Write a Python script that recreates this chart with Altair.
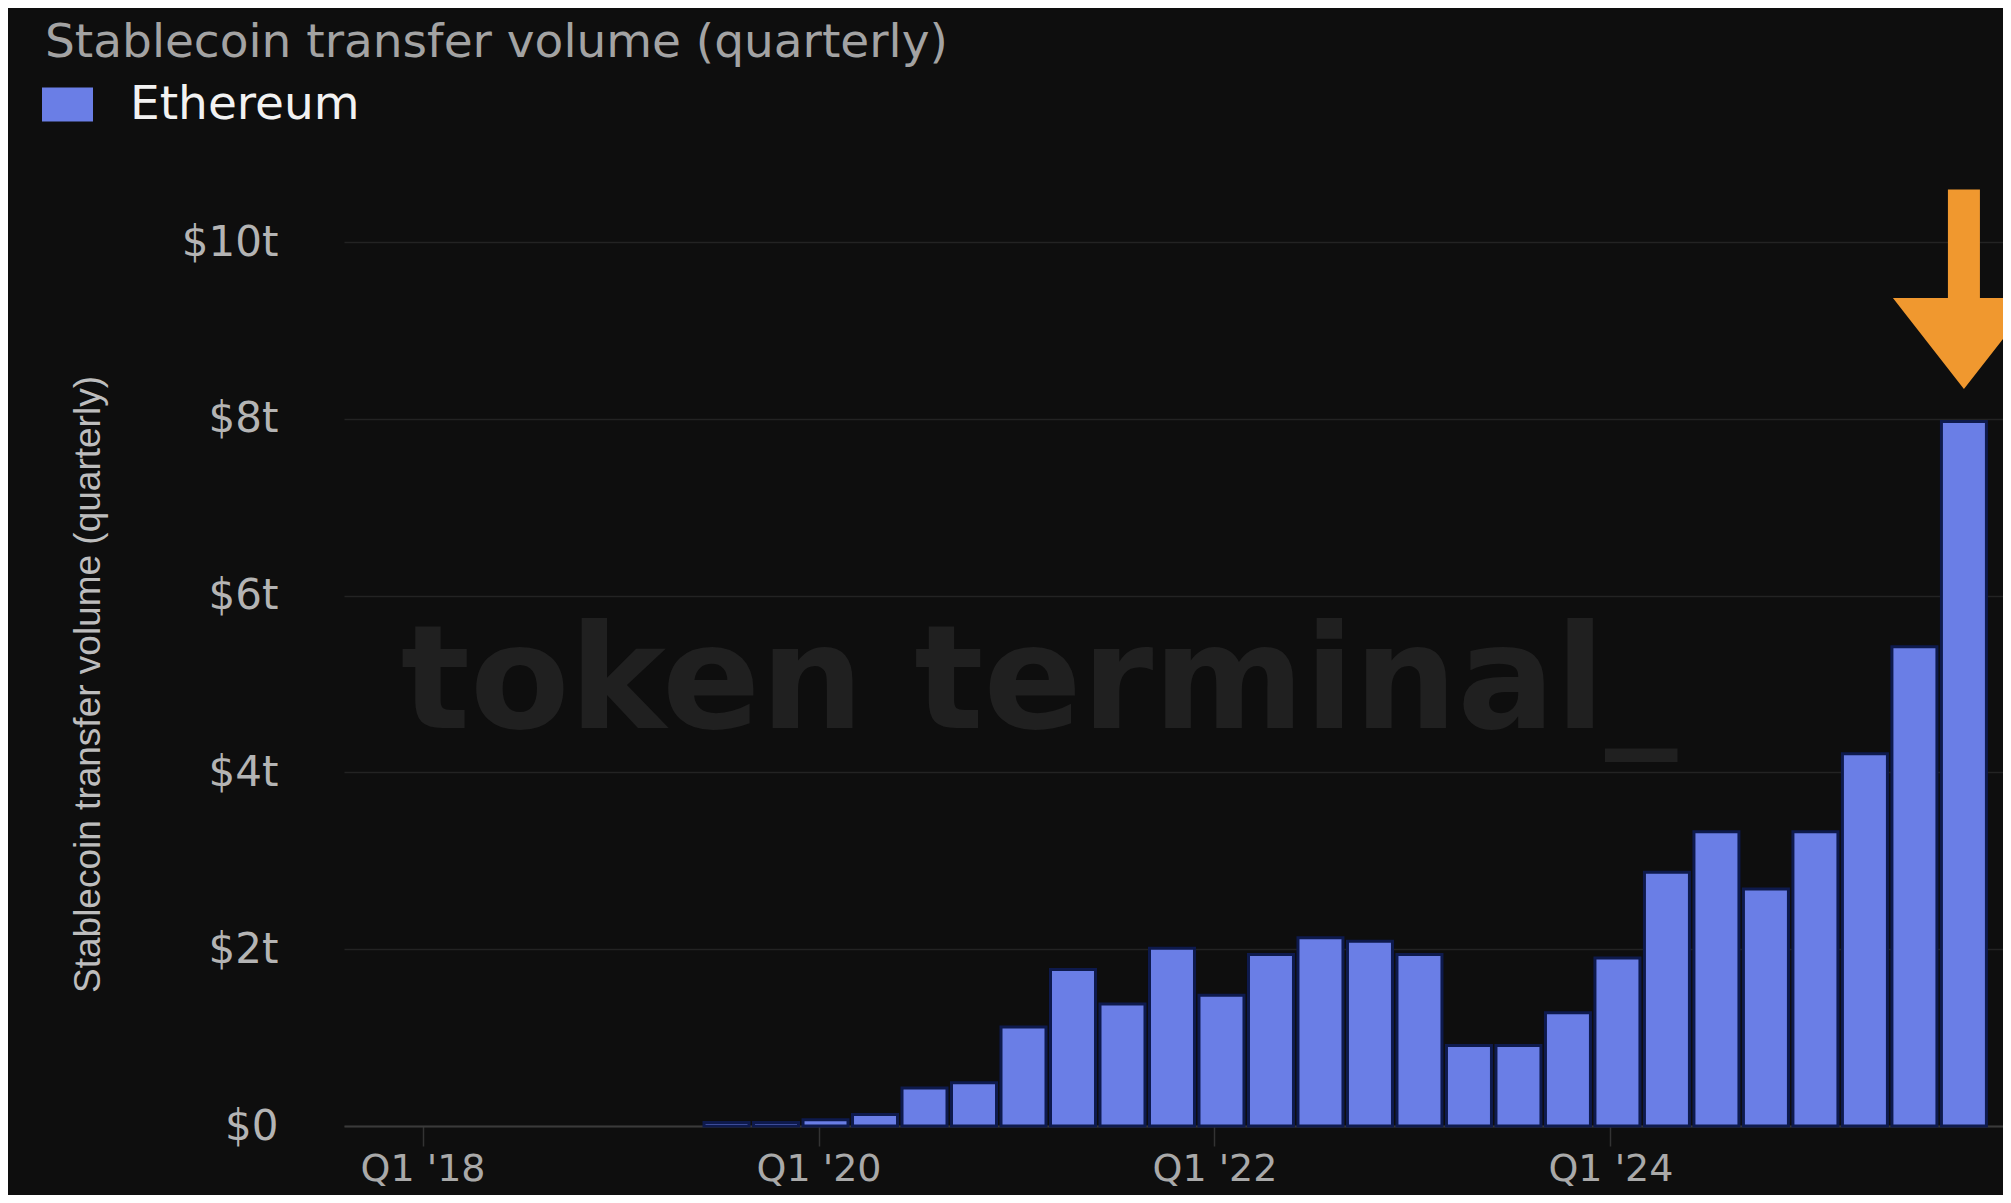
import altair as alt
import pandas as pd

# ---- data ----
quarters = ["Q3 '19", "Q4 '19", "Q1 '20", "Q2 '20", "Q3 '20", "Q4 '20",
            "Q1 '21", "Q2 '21", "Q3 '21", "Q4 '21",
            "Q1 '22", "Q2 '22", "Q3 '22", "Q4 '22",
            "Q1 '23", "Q2 '23", "Q3 '23", "Q4 '23",
            "Q1 '24", "Q2 '24", "Q3 '24", "Q4 '24",
            "Q1 '25", "Q2 '25", "Q3 '25", "Q4 '25"]
volume_trillions = [0.04, 0.04, 0.07, 0.13, 0.43, 0.49,
                    1.12, 1.77, 1.38, 2.01,
                    1.48, 1.94, 2.13, 2.09,
                    1.94, 0.91, 0.91, 1.28,
                    1.90, 2.87, 3.33, 2.68,
                    3.33, 4.21, 5.42, 7.97]
series = "Ethereum"
y_ticks = [0, 2, 4, 6, 8, 10]
x_tick_quarters = ["Q1 '18", "Q1 '20", "Q1 '22", "Q1 '24"]
title_text = "Stablecoin transfer volume (quarterly)"
watermark = ["token terminal_"]


def q_index(label):
    q = int(label[1])
    yy = int(label[-2:])
    return (yy - 18) * 4 + (q - 1)


df = pd.DataFrame({
    "quarter": quarters,
    "t": [q_index(q) for q in quarters],
    "volume": volume_trillions,
    "chain": [series] * len(quarters),
})
tick_vals = [q_index(q) for q in x_tick_quarters]

BG = "#0e0e0e"
BAR = "#6a7ee6"
W, H = 1659, 884

x_scale = alt.Scale(domain=[-1.486, 31.83], nice=False, zero=False)
y_scale = alt.Scale(domain=[0, 10], nice=False)

bars = alt.Chart(df).mark_bar(size=45, stroke="#0e1a4d", strokeWidth=3, xOffset=7).encode(
    x=alt.X("t:Q", scale=x_scale,
            axis=alt.Axis(values=tick_vals, title=None, grid=False,
                          labelExpr="\"Q1 '\" + (18 + datum.value / 4)",
                          labelFont="DejaVu Sans", labelFontSize=38,
                          labelColor="#a9a9a9", labelPadding=4,
                          ticks=True, tickSize=20, tickColor="#333333", tickWidth=1.5,
                          domain=True, domainColor="#3a3a3a", domainWidth=2)),
    y=alt.Y("volume:Q", scale=y_scale,
            axis=alt.Axis(values=y_ticks, title=title_text,
                          labelExpr="datum.value == 0 ? '$0' : '$' + datum.value + 't'",
                          labelFont="DejaVu Sans", labelFontSize=42,
                          labelColor="#b4b4b4", labelPadding=66,
                          ticks=False, domain=False,
                          grid=True, gridColor="#232323", gridWidth=1.5,
                          titleFont="Liberation Sans", titleFontSize=37,
                          titleFontWeight="normal", titleColor="#bdbdbd",
                          titleX=-237, titleY=442, titleAngle=-90,
                          titleAlign="center", titleBaseline="bottom")),
    color=alt.Color("chain:N", scale=alt.Scale(range=[BAR]),
                    legend=alt.Legend(title=None, orient="none",
                                      legendX=-302, legendY=-163,
                                      symbolType="M-1,-0.667H1V0.667H-1Z",
                                      symbolSize=2601, symbolStrokeWidth=0,
                                      labelFont="DejaVu Sans", labelFontSize=47,
                                      labelLimit=0,
                                      labelColor="#f2f2f2", labelOffset=37)),
)

mark_df = pd.DataFrame({"w": watermark})
wm = alt.Chart(mark_df).mark_text(
    font="DejaVu Sans", fontWeight="bold", fontSize=145, color="#202020",
    align="center", baseline="alphabetic"
).encode(text="w:N", x=alt.value(695), y=alt.value(486))

arrow_path = "M-0.16,-1L0.16,-1L0.16,0.085L0.71,0.085L0,0.995L-0.71,0.085L-0.16,0.085Z"
arrow = alt.Chart(df.tail(1)).mark_point(
    shape=arrow_path, size=40000, filled=True, color="#f0982f", opacity=1,
    strokeWidth=0, xOffset=7
).encode(x=alt.X("t:Q", scale=x_scale), y=alt.value(47.5))

chart = alt.layer(wm, bars, arrow).properties(
    width=W, height=H,
    title=alt.TitleParams(title_text, anchor="start", frame="group",
                          font="DejaVu Sans",
                          fontSize=47, fontWeight="normal", color="#a3a3a3",
                          dx=-299, offset=12),
    background=BG,
    padding={"left": 336, "top": 234, "right": 0, "bottom": 69},
    autosize=alt.AutoSizeParams(type="none"),
).configure_view(stroke=None)

chart.save("out.html", embed_options={"renderer": "svg", "actions": False})
